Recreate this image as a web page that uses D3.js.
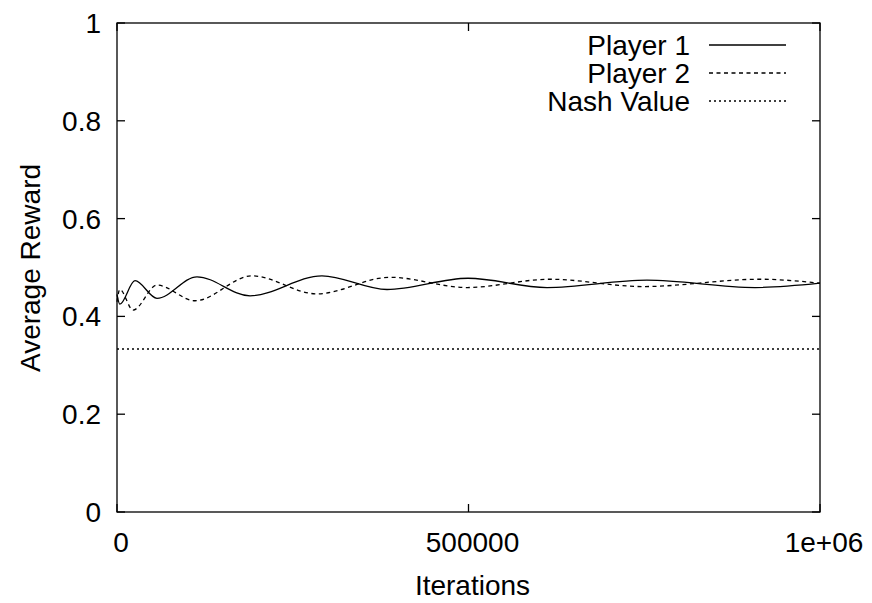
<!DOCTYPE html>
<style>* {padding:0; margin:0; border: 0; outline: 0;} body {background:#fff;}</style>
<body>
<script src="https://d3js.org/d3.v7.min.js"></script>
<script>
// values (iterations, average reward)
var player1Iter = [0, 4000, 25600, 56900, 113800, 189200, 291600, 384100, 499300, 611700, 753900, 907500, 1000000]
var player1Val  = [0.445, 0.425, 0.473, 0.437, 0.481, 0.442, 0.483, 0.455, 0.478, 0.459, 0.474, 0.459, 0.468]
var player2Iter = [0, 4000, 22800, 56900, 111000, 192000, 284500, 388300, 497900, 615900, 748200, 914700, 1000000]
var player2Val  = [0.43, 0.455, 0.413, 0.464, 0.432, 0.483, 0.446, 0.480, 0.459, 0.476, 0.461, 0.476, 0.468]
var nashValue = 1/3
var xTicks = [0, 500000, 1000000]
var xTickLabels = ["0", "500000", "1e+06"]
var yTicks = [0, 0.2, 0.4, 0.6, 0.8, 1]
var legendNames = ["Player 1", "Player 2", "Nash Value"]
var legendDash = [null, "4,3.5", "2,3"]

var W = 872, H = 603
var mLeft = 117, mRight = 820, mTop = 23, mBottom = 512
var fs = '28px'

var svg = d3.select('body').append('svg')
  .attr('width', W).attr('height', H)
  .style('font-family', '"Liberation Sans", Arial, sans-serif')

var x = d3.scaleLinear().domain([0, 1000000]).range([mLeft, mRight])
var y = d3.scaleLinear().domain([0, 1]).range([mBottom, mTop])

// frame
svg.append('rect')
  .attr('x', mLeft).attr('y', mTop)
  .attr('width', mRight - mLeft).attr('height', mBottom - mTop)
  .style('fill', 'none').style('stroke', '#000').style('stroke-width', 1.3)

var tick = 8
// y ticks, both sides
yTicks.forEach(function(t){
  svg.append('line').attr('x1', mLeft).attr('x2', mLeft + tick)
    .attr('y1', y(t)).attr('y2', y(t)).style('stroke', '#000').style('stroke-width', 1.3)
  svg.append('line').attr('x1', mRight).attr('x2', mRight - tick)
    .attr('y1', y(t)).attr('y2', y(t)).style('stroke', '#000').style('stroke-width', 1.3)
  svg.append('text').attr('x', 101).attr('y', y(t) + 10)
    .attr('text-anchor', 'end').style('font-size', fs).text(t)
})

// x ticks, both sides
xTicks.forEach(function(t, i){
  svg.append('line').attr('x1', x(t)).attr('x2', x(t))
    .attr('y1', mBottom).attr('y2', mBottom - tick).style('stroke', '#000').style('stroke-width', 1.3)
  svg.append('line').attr('x1', x(t)).attr('x2', x(t))
    .attr('y1', mTop).attr('y2', mTop + tick).style('stroke', '#000').style('stroke-width', 1.3)
  svg.append('text').attr('x', x(t) + 4).attr('y', 552)
    .attr('text-anchor', 'middle').style('font-size', fs).text(xTickLabels[i])
})

svg.append('text').attr('x', (mLeft + mRight) / 2 + 4).attr('y', 595)
  .attr('text-anchor', 'middle').style('font-size', fs).text('Iterations')
svg.append('text').attr('transform', 'translate(40,268) rotate(-90)')
  .attr('text-anchor', 'middle').style('font-size', fs).text('Average Reward')

var line = d3.line().x(function(d){return x(d[0])}).y(function(d){return y(d[1])}).curve(d3.curveMonotoneX)

svg.append('path').datum(d3.zip(player1Iter, player1Val)).attr('d', line)
  .style('fill', 'none').style('stroke', '#000').style('stroke-width', 1.3)
svg.append('path').datum(d3.zip(player2Iter, player2Val)).attr('d', line)
  .style('fill', 'none').style('stroke', '#000').style('stroke-width', 1.3)
  .style('stroke-dasharray', legendDash[1])
svg.append('line').attr('x1', x(0)).attr('x2', x(1000000))
  .attr('y1', y(nashValue)).attr('y2', y(nashValue))
  .style('stroke', '#000').style('stroke-width', 1.3).style('stroke-dasharray', legendDash[2])

// legend
legendNames.forEach(function(n, i){
  var ly = 45 + i * 28
  svg.append('text').attr('x', 690).attr('y', ly + 10)
    .attr('text-anchor', 'end').style('font-size', fs).text(n)
  var l = svg.append('line').attr('x1', 709).attr('x2', 786).attr('y1', ly).attr('y2', ly)
    .style('stroke', '#000').style('stroke-width', 1.3)
  if (legendDash[i]) l.style('stroke-dasharray', legendDash[i])
})
</script>
